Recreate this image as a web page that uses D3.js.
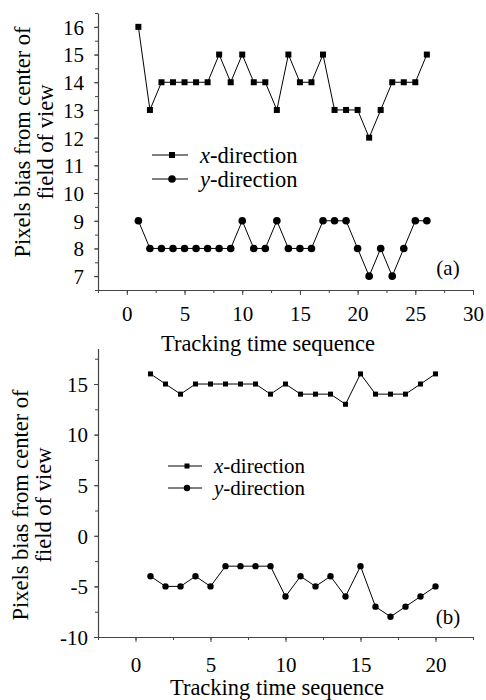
<!DOCTYPE html>
<html>
<head>
<meta charset="utf-8">
<script src="https://cdnjs.cloudflare.com/ajax/libs/d3/7.8.5/d3.min.js"></script>
<style>
  body { margin: 0; background: #fff; }
</style>
</head>
<body>
<div id="chart"></div>
<script>
// data
const seqA = d3.range(1, 27)
const xDirA = [16, 13, 14, 14, 14, 14, 14, 15, 14, 15, 14, 14, 13, 15, 14, 14, 15, 13, 13, 13, 12, 13, 14, 14, 14, 15]
const yDirA = [9, 8, 8, 8, 8, 8, 8, 8, 8, 9, 8, 8, 9, 8, 8, 8, 9, 9, 9, 8, 7, 8, 7, 8, 9, 9]

const seqB = d3.range(1, 21)
const xDirB = [16, 15, 14, 15, 15, 15, 15, 15, 14, 15, 14, 14, 14, 13, 16, 14, 14, 14, 15, 16]
const yDirB = [-4, -5, -5, -4, -5, -3, -3, -3, -3, -6, -4, -5, -4, -6, -3, -7, -8, -7, -6, -5]

const ticksA = { x: [0, 5, 10, 15, 20, 25, 30], y: [7, 8, 9, 10, 11, 12, 13, 14, 15, 16] }
const ticksB = { x: [0, 5, 10, 15, 20], y: [-10, -5, 0, 5, 10, 15] }

const serif = "'Liberation Serif', 'Times New Roman', 'DejaVu Serif', serif"

const svg = d3.select('#chart')
  .append('svg')
  .attr('width', 486)
  .attr('height', 700)
  .style('font-family', serif)

const axisColor = '#444'

function panel (opt) {
  const x = d3.scaleLinear().domain(opt.xDomain).range([98, 473])
  const y = d3.scaleLinear().domain(opt.yDomain).range(opt.yRange)
  const g = svg.append('g')

  // minor ticks
  const xMinor = d3.range(opt.xDomain[0], opt.xDomain[1] + 0.01, opt.xMinor)
  const yMinor = d3.range(Math.ceil(opt.yDomain[0] / opt.yMinor) * opt.yMinor, opt.yDomain[1] + 0.01, opt.yMinor)

  g.append('g')
    .attr('transform', `translate(0, ${opt.yRange[0]})`)
    .call(d3.axisBottom(x).tickValues(xMinor).tickSize(3).tickFormat(''))
    .call(a => a.select('.domain').remove())
    .selectAll('line').attr('stroke', axisColor)
  g.append('g')
    .attr('transform', 'translate(98, 0)')
    .call(d3.axisLeft(y).tickValues(yMinor).tickSize(3).tickFormat(''))
    .call(a => a.select('.domain').remove())
    .selectAll('line').attr('stroke', axisColor)

  // major ticks + labels
  const fmt = d => String(d)
  const xa = g.append('g')
    .attr('transform', `translate(0, ${opt.yRange[0]})`)
    .call(d3.axisBottom(x).tickValues(opt.ticks.x).tickFormat(fmt).tickSize(5).tickSizeOuter(0).tickPadding(opt.xPad))
  const ya = g.append('g')
    .attr('transform', 'translate(98, 0)')
    .call(d3.axisLeft(y).tickValues(opt.ticks.y).tickFormat(fmt).tickSize(4).tickSizeOuter(0).tickPadding(opt.yPad))
  ;[xa, ya].forEach(a => {
    a.attr('font-family', serif)
    a.select('.domain').attr('stroke', axisColor).attr('stroke-width', 1.2)
    a.selectAll('line').attr('stroke', axisColor)
    a.selectAll('text').style('font-size', '21px').style('font-family', serif).attr('fill', '#000')
  })
  ya.selectAll('text').attr('dy', '0.35em')

  // series
  const line = d3.line().x(d => x(d[0])).y(d => y(d[1]))
  const ptsX = opt.seq.map((s, i) => [s, opt.xDir[i]])
  const ptsY = opt.seq.map((s, i) => [s, opt.yDir[i]])
  g.append('path').datum(ptsX).attr('d', line).attr('fill', 'none').attr('stroke', '#000').attr('stroke-width', 1)
  g.append('path').datum(ptsY).attr('d', line).attr('fill', 'none').attr('stroke', '#000').attr('stroke-width', 1)
  const s = opt.sq
  g.selectAll('.sq').data(ptsX).join('rect')
    .attr('x', d => x(d[0]) - s / 2).attr('y', d => y(d[1]) - s / 2)
    .attr('width', s).attr('height', s).attr('fill', '#000')
  g.selectAll('.ci').data(ptsY).join('circle')
    .attr('cx', d => x(d[0])).attr('cy', d => y(d[1]))
    .attr('r', opt.r).attr('fill', '#000')

  // legend
  const lg = g.append('g').attr('transform', `translate(${opt.legend[0]}, ${opt.legend[1]})`)
  const items = [['x', 'rect'], ['y', 'circle']]
  items.forEach((it, i) => {
    const row = lg.append('g').attr('transform', `translate(0, ${i * opt.legendGap})`)
    row.append('line').attr('x1', 0).attr('x2', opt.legendLen).attr('stroke', '#000')
    if (it[1] === 'rect') {
      row.append('rect').attr('x', opt.legendLen / 2 - s / 2 + 2).attr('y', -s / 2).attr('width', s).attr('height', s)
    } else {
      row.append('circle').attr('cx', opt.legendLen / 2 + 2).attr('r', opt.r)
    }
    const t = row.append('text').attr('x', opt.legendLen + 12).attr('dy', '0.35em')
      .style('font-size', opt.legendFont).style('font-family', serif)
    t.append('tspan').style('font-style', 'italic').text(it[0])
    t.append('tspan').text('-direction')
  })

  // panel tag
  g.append('text').attr('x', 448).attr('y', opt.tagY).attr('text-anchor', 'middle')
    .attr('dy', '0.35em').style('font-size', '21px').style('font-family', serif).text(opt.tag)

  // axis titles
  g.append('text').attr('x', opt.xTitle[0]).attr('y', opt.xTitle[1]).attr('text-anchor', 'middle')
    .attr('dy', '0.35em').style('font-size', '22.5px').style('font-family', serif).text('Tracking time sequence')
  const yt = g.append('text').attr('text-anchor', 'middle')
    .attr('transform', `translate(${opt.yTitle[0]}, ${opt.yTitle[1]}) rotate(-90)`)
    .style('font-size', '22.5px').style('font-family', serif)
  yt.append('tspan').attr('x', 0).attr('y', 0).attr('dy', '0.35em').text('Pixels bias from center of')
  yt.append('tspan').attr('x', 0).attr('y', 23).attr('dy', '0.35em').text('field of view')
}

panel({
  seq: seqA, xDir: xDirA, yDir: yDirA, ticks: ticksA,
  xDomain: [-2.5, 30], yDomain: [6.5, 16.5], yRange: [290, 13],
  xMinor: 2.5, yMinor: 0.5, sq: 6, r: 3.8, xPad: 11, yPad: 10,
  legend: [152, 155], legendGap: 24, legendLen: 36, legendFont: '22.5px',
  tag: '(a)', tagY: 268,
  xTitle: [268, 343], yTitle: [22, 142]
})

panel({
  seq: seqB, xDir: xDirB, yDir: yDirB, ticks: ticksB,
  xDomain: [-2.5, 22.5], yDomain: [-10, 18.5], yRange: [637, 348.6],
  xMinor: 2.5, yMinor: 2.5, sq: 5, r: 3.2, xPad: 15, yPad: 6,
  legend: [168, 466], legendGap: 22, legendLen: 34, legendFont: '21px',
  tag: '(b)', tagY: 617,
  xTitle: [277, 687], yTitle: [20, 505]
})
</script>
</body>
</html>
